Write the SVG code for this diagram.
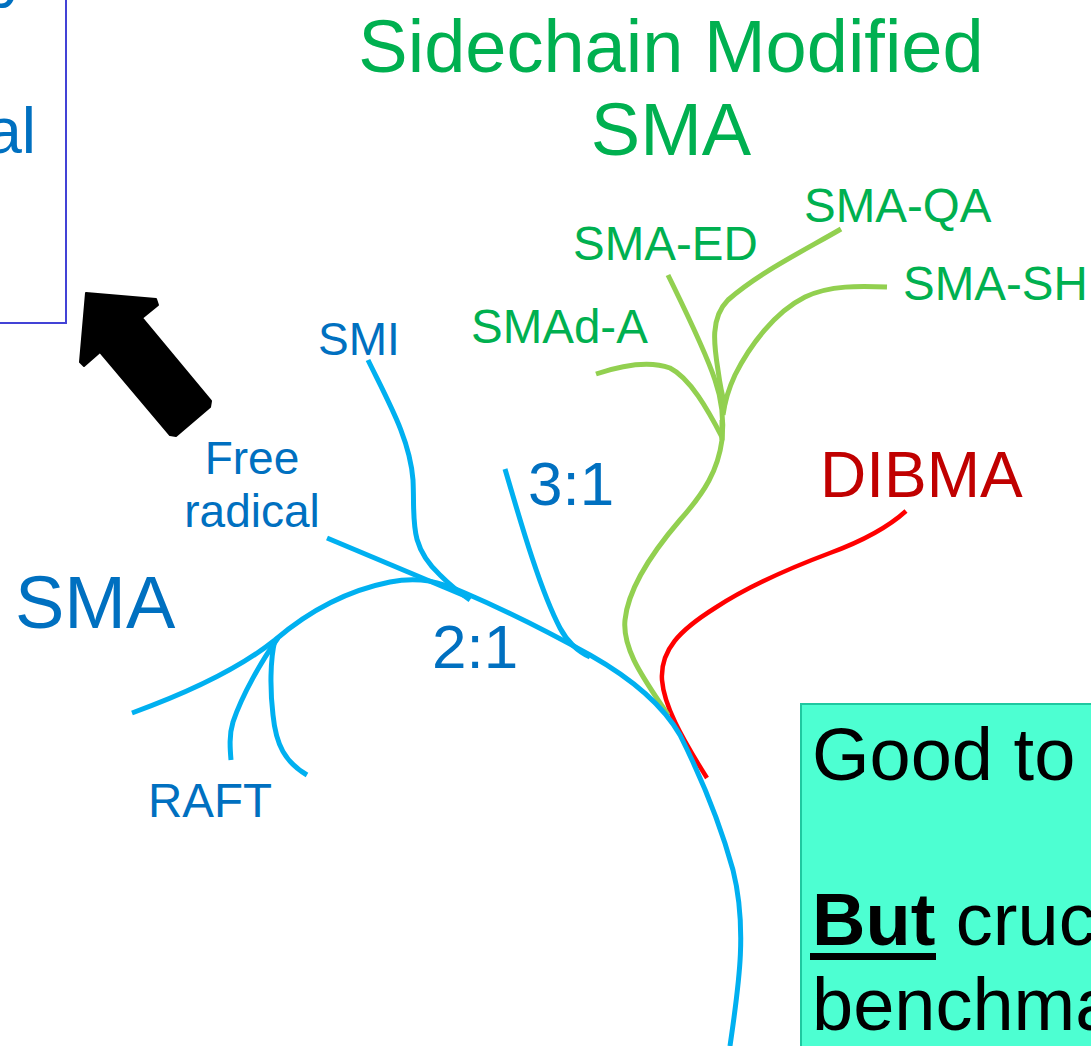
<svg xmlns="http://www.w3.org/2000/svg" width="1091" height="1046" viewBox="0 0 1091 1046">
  <style>
    text { font-family: "Liberation Sans", Arial, sans-serif; }
    .blue-t { fill: #0070c0; }
    .green-t { fill: #00b050; }
    .red-t { fill: #c00000; }
    .lbl { font-size: 47.5px; }
    .big { font-size: 74px; }
    .ratio { font-size: 62px; }
    .branch { fill: none; stroke-linecap: butt; stroke-linejoin: round; }
    .b { stroke: #00b0f0; stroke-width: 5; }
    .g { stroke: #92d050; stroke-width: 5; }
    .r { stroke: #ff0000; stroke-width: 4.5; }
  </style>
  <rect width="1091" height="1046" fill="#ffffff"/>

  <!-- partially visible box at the top left -->
  <g id="corner-box">
    <rect x="-10" y="-10" width="76" height="333" fill="none" stroke="#4343d6" stroke-width="2"/>
    <text x="-3" y="-5" class="blue-t" font-size="64">y</text>
    <text x="36" y="153" class="blue-t" font-size="64" text-anchor="end">al</text>
  </g>

  <!-- block arrow pointing to the box -->
  <g id="pointer-arrow">
    <polygon points="86,293 156,299 158,305 142,318 211,401 210,407 176,436 170,435 100,352 84,366 80,362" fill="#000000" stroke="#000000" stroke-width="2" stroke-linejoin="round"/>
  </g>

  <!-- headings -->
  <g id="title-sidechain">
    <text x="671" y="72" class="green-t big" text-anchor="middle">Sidechain Modified</text>
    <text x="671" y="155" class="green-t big" text-anchor="middle">SMA</text>
  </g>
  <g id="title-sma">
    <text x="15" y="628" class="blue-t big">SMA</text>
  </g>
  <g id="title-dibma">
    <text x="820" y="497" class="red-t" font-size="64">DIBMA</text>
  </g>

  <!-- branch labels -->
  <g id="label-sma-qa"><text x="804" y="222" class="green-t lbl">SMA-QA</text></g>
  <g id="label-sma-ed"><text x="573" y="260" class="green-t lbl">SMA-ED</text></g>
  <g id="label-sma-sh"><text x="903" y="300" class="green-t lbl">SMA-SH</text></g>
  <g id="label-smad-a"><text x="471" y="343" class="green-t lbl">SMAd-A</text></g>
  <g id="label-smi"><text x="318" y="355" class="blue-t" font-size="46">SMI</text></g>
  <g id="label-free-radical">
    <text x="252" y="474" class="blue-t" font-size="46" text-anchor="middle">Free</text>
    <text x="252" y="527" class="blue-t" font-size="46" text-anchor="middle">radical</text>
  </g>
  <g id="label-3-1"><text x="528" y="505" class="blue-t ratio">3:1</text></g>
  <g id="label-2-1"><text x="432" y="668" class="blue-t ratio">2:1</text></g>
  <g id="label-raft"><text x="148" y="817" class="blue-t lbl">RAFT</text></g>

  <!-- tree branches -->
  <g id="connectors" class="branch">
    <!-- DIBMA branch -->
    <path class="r" d="M906,511 C885,530 860,542 830,553 C790,568 750,585 715,608 C680,630 660,650 662,680 C664,705 680,735 707,778"/>
    <!-- sidechain-modified branches -->
    <path class="g" d="M668,715 C645,680 622,650 625,620 C628,590 650,555 680,520 C705,492 718,470 722,440 L722,420"/>
    <path class="g" d="M596,374 C620,366 648,360 670,368 C690,378 708,410 722,437"/>
    <path class="g" d="M668,275 C685,310 705,350 715,380 C722,400 724,420 722,440"/>
    <path class="g" d="M841,229 C805,250 760,272 728,300 C710,318 714,345 718,370 C720,385 722,395 725,405"/>
    <path class="g" d="M887,287 C860,286 830,285 805,297 C775,312 750,345 735,375 C728,390 725,400 723,415"/>
    <!-- SMA trunk and branches -->
    <path class="b" d="M730,1046 C738,990 748,930 733,870 C722,830 705,785 680,735 C660,700 620,672 590,655 C545,630 500,608 465,593 C440,582 420,576 390,582 C350,590 310,610 275,640 C240,668 190,692 132,713"/>
    <path class="b" d="M327,538 L470,598"/>
    <path class="b" d="M368,360 C390,405 410,440 413,480 C415,520 408,545 440,575 C450,585 460,593 470,600"/>
    <path class="b" d="M505,469 C520,520 540,590 560,628 C568,643 577,651 590,657"/>
    <path class="b" d="M278,638 C262,660 242,695 233,722 C229,735 230,748 231,760"/>
    <path class="b" d="M275,640 C270,660 270,690 273,715 C276,745 285,762 307,775"/>
  </g>

  <!-- note box at the bottom right -->
  <g id="note-box">
    <rect x="801" y="704" width="310" height="360" fill="#4dffd2" stroke="#1fc8a0" stroke-width="2"/>
    <text x="812" y="780" font-size="74" fill="#000000">Good to</text>
    <text x="812" y="945" font-size="74" fill="#000000"><tspan font-weight="bold">But</tspan> cruc</text>
    <rect x="810" y="953" width="126" height="7" fill="#000000"/>
    <text x="812" y="1030" font-size="74" fill="#000000">benchma</text>
  </g>
</svg>
